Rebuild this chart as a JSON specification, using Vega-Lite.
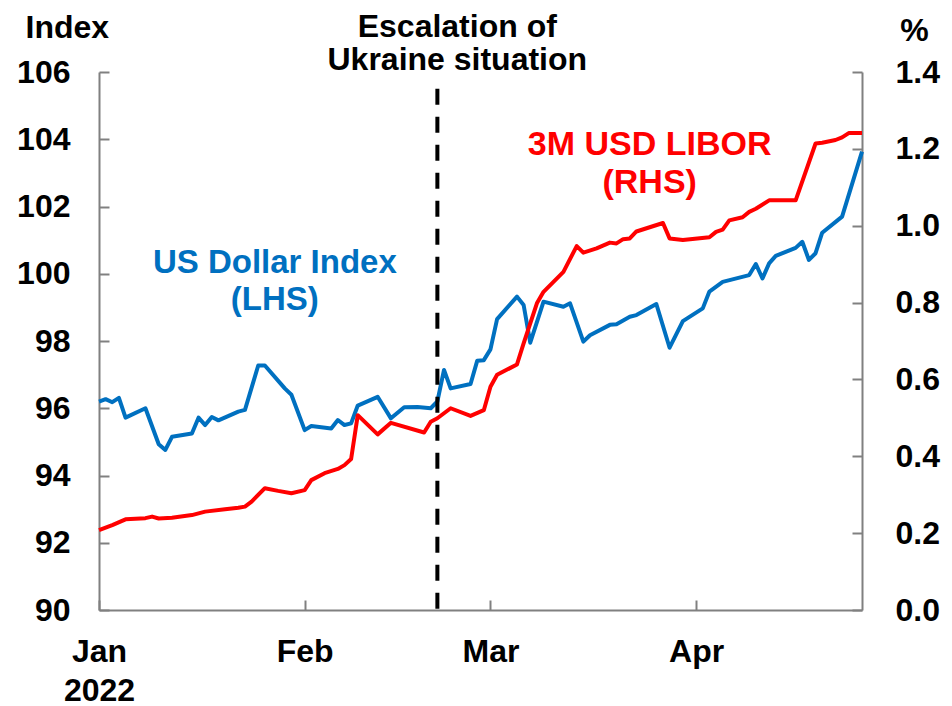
{
  "$schema": "https://vega.github.io/schema/vega-lite/v6.json",
  "width": 763,
  "height": 538,
  "autosize": {"type": "none"},
  "padding": {"left": 99, "top": 72, "right": 90, "bottom": 96},
  "background": "white",
  "config": {
    "view": {"stroke": null},
    "font": "Liberation Sans",
    "axis": {
      "grid": false,
      "labelFont": "Liberation Sans",
      "labelFontWeight": "bold",
      "labelFontSize": 32,
      "labelColor": "black",
      "titleFont": "Liberation Sans",
      "titleFontWeight": "bold",
      "titleFontSize": 32,
      "titleColor": "black",
      "domainColor": "#808080",
      "domainWidth": 2,
      "tickColor": "#808080",
      "tickWidth": 2,
      "tickSize": -10,
      "labelOverlap": false,
      "labelBound": false,
      "labelFlush": false
    }
  },
  "datasets": {
    "usd": [
      {"date": "2022-01-01", "usd": 96.20},
      {"date": "2022-01-02", "usd": 96.27},
      {"date": "2022-01-03", "usd": 96.18},
      {"date": "2022-01-04", "usd": 96.31},
      {"date": "2022-01-05", "usd": 95.72},
      {"date": "2022-01-08", "usd": 96.00},
      {"date": "2022-01-10", "usd": 94.93},
      {"date": "2022-01-11", "usd": 94.76},
      {"date": "2022-01-12", "usd": 95.15},
      {"date": "2022-01-15", "usd": 95.25},
      {"date": "2022-01-16", "usd": 95.72},
      {"date": "2022-01-17", "usd": 95.50},
      {"date": "2022-01-18", "usd": 95.74},
      {"date": "2022-01-19", "usd": 95.64},
      {"date": "2022-01-22", "usd": 95.90},
      {"date": "2022-01-23", "usd": 95.95},
      {"date": "2022-01-25", "usd": 97.27},
      {"date": "2022-01-26", "usd": 97.27},
      {"date": "2022-01-29", "usd": 96.59},
      {"date": "2022-01-30", "usd": 96.40},
      {"date": "2022-02-01", "usd": 95.35},
      {"date": "2022-02-02", "usd": 95.47},
      {"date": "2022-02-05", "usd": 95.40},
      {"date": "2022-02-06", "usd": 95.65},
      {"date": "2022-02-07", "usd": 95.50},
      {"date": "2022-02-08", "usd": 95.55},
      {"date": "2022-02-09", "usd": 96.08},
      {"date": "2022-02-12", "usd": 96.34},
      {"date": "2022-02-14", "usd": 95.70},
      {"date": "2022-02-16", "usd": 96.03},
      {"date": "2022-02-18", "usd": 96.04},
      {"date": "2022-02-20", "usd": 96.00},
      {"date": "2022-02-21", "usd": 96.20},
      {"date": "2022-02-22", "usd": 97.14},
      {"date": "2022-02-23", "usd": 96.59},
      {"date": "2022-02-26", "usd": 96.72},
      {"date": "2022-02-27", "usd": 97.41},
      {"date": "2022-02-28", "usd": 97.43},
      {"date": "2022-03-01", "usd": 97.75},
      {"date": "2022-03-02", "usd": 98.65},
      {"date": "2022-03-05", "usd": 99.32},
      {"date": "2022-03-06", "usd": 99.07},
      {"date": "2022-03-07", "usd": 97.95},
      {"date": "2022-03-09", "usd": 99.17},
      {"date": "2022-03-12", "usd": 99.02},
      {"date": "2022-03-13", "usd": 99.12},
      {"date": "2022-03-15", "usd": 97.98},
      {"date": "2022-03-16", "usd": 98.17},
      {"date": "2022-03-19", "usd": 98.48},
      {"date": "2022-03-20", "usd": 98.50},
      {"date": "2022-03-22", "usd": 98.72},
      {"date": "2022-03-23", "usd": 98.77},
      {"date": "2022-03-26", "usd": 99.10},
      {"date": "2022-03-28", "usd": 97.80},
      {"date": "2022-03-30", "usd": 98.59},
      {"date": "2022-04-02", "usd": 98.97},
      {"date": "2022-04-03", "usd": 99.47},
      {"date": "2022-04-05", "usd": 99.76},
      {"date": "2022-04-09", "usd": 99.96},
      {"date": "2022-04-10", "usd": 100.29},
      {"date": "2022-04-11", "usd": 99.86},
      {"date": "2022-04-12", "usd": 100.31},
      {"date": "2022-04-13", "usd": 100.53},
      {"date": "2022-04-16", "usd": 100.77},
      {"date": "2022-04-17", "usd": 100.95},
      {"date": "2022-04-18", "usd": 100.41},
      {"date": "2022-04-19", "usd": 100.61},
      {"date": "2022-04-20", "usd": 101.22},
      {"date": "2022-04-23", "usd": 101.70},
      {"date": "2022-04-26", "usd": 103.63}
    ],
    "libor": [
      {"date": "2022-01-01", "libor": 0.208},
      {"date": "2022-01-03", "libor": 0.221},
      {"date": "2022-01-05", "libor": 0.236},
      {"date": "2022-01-08", "libor": 0.239},
      {"date": "2022-01-09", "libor": 0.243},
      {"date": "2022-01-10", "libor": 0.238},
      {"date": "2022-01-12", "libor": 0.240},
      {"date": "2022-01-15", "libor": 0.247},
      {"date": "2022-01-17", "libor": 0.256},
      {"date": "2022-01-20", "libor": 0.262},
      {"date": "2022-01-22", "libor": 0.266},
      {"date": "2022-01-23", "libor": 0.269},
      {"date": "2022-01-24", "libor": 0.282},
      {"date": "2022-01-26", "libor": 0.317},
      {"date": "2022-01-28", "libor": 0.310},
      {"date": "2022-01-30", "libor": 0.304},
      {"date": "2022-02-01", "libor": 0.312},
      {"date": "2022-02-02", "libor": 0.338},
      {"date": "2022-02-04", "libor": 0.356},
      {"date": "2022-02-06", "libor": 0.367},
      {"date": "2022-02-07", "libor": 0.377},
      {"date": "2022-02-08", "libor": 0.393},
      {"date": "2022-02-09", "libor": 0.507},
      {"date": "2022-02-12", "libor": 0.457},
      {"date": "2022-02-14", "libor": 0.487},
      {"date": "2022-02-19", "libor": 0.462},
      {"date": "2022-02-20", "libor": 0.490},
      {"date": "2022-02-21", "libor": 0.499},
      {"date": "2022-02-23", "libor": 0.525},
      {"date": "2022-02-26", "libor": 0.505},
      {"date": "2022-02-28", "libor": 0.520},
      {"date": "2022-03-01", "libor": 0.581},
      {"date": "2022-03-02", "libor": 0.612},
      {"date": "2022-03-05", "libor": 0.639},
      {"date": "2022-03-06", "libor": 0.694},
      {"date": "2022-03-08", "libor": 0.798},
      {"date": "2022-03-09", "libor": 0.828},
      {"date": "2022-03-12", "libor": 0.880},
      {"date": "2022-03-14", "libor": 0.947},
      {"date": "2022-03-15", "libor": 0.930},
      {"date": "2022-03-17", "libor": 0.941},
      {"date": "2022-03-19", "libor": 0.956},
      {"date": "2022-03-20", "libor": 0.954},
      {"date": "2022-03-21", "libor": 0.965},
      {"date": "2022-03-22", "libor": 0.967},
      {"date": "2022-03-23", "libor": 0.985},
      {"date": "2022-03-27", "libor": 1.007},
      {"date": "2022-03-28", "libor": 0.967},
      {"date": "2022-03-30", "libor": 0.963},
      {"date": "2022-04-03", "libor": 0.970},
      {"date": "2022-04-04", "libor": 0.984},
      {"date": "2022-04-05", "libor": 0.990},
      {"date": "2022-04-06", "libor": 1.014},
      {"date": "2022-04-08", "libor": 1.022},
      {"date": "2022-04-09", "libor": 1.036},
      {"date": "2022-04-10", "libor": 1.044},
      {"date": "2022-04-12", "libor": 1.066},
      {"date": "2022-04-16", "libor": 1.066},
      {"date": "2022-04-19", "libor": 1.214},
      {"date": "2022-04-20", "libor": 1.216},
      {"date": "2022-04-22", "libor": 1.223},
      {"date": "2022-04-23", "libor": 1.230},
      {"date": "2022-04-24", "libor": 1.241},
      {"date": "2022-04-26", "libor": 1.241}
    ],
    "event": [
      {"date": "2022-02-21", "top": 105.5, "bottom": 90}
    ],
    "notes": [
      {"date": "2022-02-24", "value": 107.04, "label": "Escalation of", "group": "event"},
      {"date": "2022-02-24", "value": 106.06, "label": "Ukraine situation", "group": "event"},
      {"date": "2022-01-27T12:00:00Z", "value": 100.02, "label": "US Dollar Index", "group": "usd"},
      {"date": "2022-01-27T12:00:00Z", "value": 98.92, "label": "(LHS)", "group": "usd"},
      {"date": "2022-03-25", "value": 103.53, "label": "3M USD LIBOR", "group": "libor"},
      {"date": "2022-03-25", "value": 102.39, "label": "(RHS)", "group": "libor"}
    ]
  },
  "encoding": {
    "x": {
      "field": "date",
      "type": "temporal",
      "scale": {"type": "utc", "domain": ["2022-01-01", "2022-04-26"]},
      "axis": {
        "title": null,
        "orient": "bottom",
        "tickCount": "month",
        "labelExpr": "utcmonth(datum.value) == 0 ? ['Jan', '2022'] : utcFormat(datum.value, '%b')",
        "labelBaseline": "top",
        "labelLineHeight": 39,
        "labelPadding": 36,
        "labelAlign": "center"
      }
    }
  },
  "layer": [
    {
      "layer": [
        {
          "data": {"name": "usd"},
          "mark": {"type": "line", "color": "#0070C0", "strokeWidth": 4, "strokeJoin": "round"},
          "encoding": {
            "y": {
              "field": "usd",
              "type": "quantitative",
              "scale": {"domain": [90, 106], "zero": false, "nice": false},
              "axis": {
                "orient": "left",
                "values": [90, 92, 94, 96, 98, 100, 102, 104, 106],
                "labelPadding": 39,
                "title": "Index",
                "titleAngle": 0,
                "titleAlign": "left",
                "titleBaseline": "alphabetic",
                "titleX": -74,
                "titleY": -35
              }
            }
          }
        },
        {
          "data": {"name": "event"},
          "mark": {"type": "rule", "color": "black", "strokeWidth": 4, "strokeDash": [16, 12]},
          "encoding": {
            "y": {
              "field": "top",
              "type": "quantitative",
              "scale": {"domain": [90, 106], "zero": false, "nice": false},
              "axis": {
                "orient": "left",
                "values": [90, 92, 94, 96, 98, 100, 102, 104, 106],
                "labelPadding": 39,
                "title": "Index",
                "titleAngle": 0,
                "titleAlign": "left",
                "titleBaseline": "alphabetic",
                "titleX": -74,
                "titleY": -35
              }
            },
            "y2": {"field": "bottom"}
          }
        },
        {
          "data": {"name": "notes"},
          "mark": {"type": "text", "font": "Liberation Sans", "fontWeight": "bold", "fontSize": 32, "align": "center", "baseline": "alphabetic"},
          "encoding": {
            "y": {
              "field": "value",
              "type": "quantitative",
              "scale": {"domain": [90, 106], "zero": false, "nice": false},
              "axis": {
                "orient": "left",
                "values": [90, 92, 94, 96, 98, 100, 102, 104, 106],
                "labelPadding": 39,
                "title": "Index",
                "titleAngle": 0,
                "titleAlign": "left",
                "titleBaseline": "alphabetic",
                "titleX": -74,
                "titleY": -35
              }
            },
            "text": {"field": "label"},
            "size": {
              "field": "group",
              "type": "nominal",
              "scale": {"domain": ["event", "usd", "libor"], "range": [32, 34, 34]},
              "legend": null
            },
            "color": {
              "field": "group",
              "type": "nominal",
              "scale": {"domain": ["event", "usd", "libor"], "range": ["black", "#0070C0", "#FF0000"]},
              "legend": null
            }
          }
        }
      ]
    },
    {
      "data": {"name": "libor"},
      "mark": {"type": "line", "color": "#FF0000", "strokeWidth": 4, "strokeJoin": "round"},
      "encoding": {
        "y": {
          "field": "libor",
          "type": "quantitative",
          "scale": {"domain": [0, 1.4], "nice": false},
          "axis": {
            "orient": "right",
            "values": [0, 0.2, 0.4, 0.6, 0.8, 1.0, 1.2, 1.4],
            "format": ".1f",
            "labelPadding": 43,
            "title": "%",
            "titleAngle": 0,
            "titleAlign": "center",
            "titleBaseline": "alphabetic",
            "titleX": 52,
            "titleY": -32
          }
        }
      }
    }
  ],
  "resolve": {"scale": {"y": "independent"}}
}
